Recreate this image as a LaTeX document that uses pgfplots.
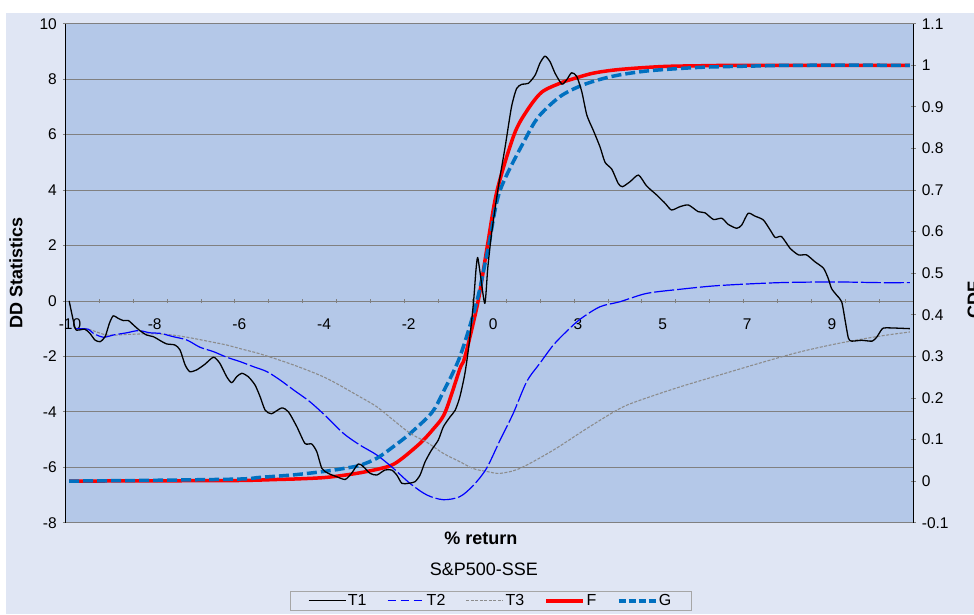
\documentclass[border=0pt]{standalone}
\usepackage{fontspec}
\setmainfont{Liberation Sans}
\usepackage{pgfplots}
\pgfplotsset{compat=1.18}
\definecolor{outerbg}{RGB}{224,230,244}
\definecolor{plotbg}{RGB}{180,200,232}
\definecolor{gridc}{RGB}{128,128,128}
\definecolor{gblue}{RGB}{0,112,192}
\definecolor{tgray}{RGB}{140,140,140}
\begin{document}
\begin{tikzpicture}[x=1pt,y=1pt]
\path[use as bounding box, fill=white] (0,0) rectangle (974,614);
\fill[outerbg] (6,0) rectangle (974,601);
\pgfplotsset{
  common/.style={
    scale only axis, width=848pt, height=499pt,
    at={(65.3pt,91.3pt)}, anchor=south west,
    xmin=-10.111, xmax=9.922,
    /pgf/number format/assume math mode=true,
    tick align=outside, major tick length=5pt, minor tick length=4.5pt,
    tick style={gridc, line width=0.8pt},
    ticklabel style={font=\fontsize{15.5}{18}\selectfont},
  },
}
% Axis A: background, grid, left axis, x axis line
\begin{axis}[common,
  ymin=-8, ymax=10,
  axis background/.style={fill=plotbg},
  axis y line=left, axis x line=middle,
  hide obscured x ticks=false, hide obscured y ticks=false,
  y axis line style={black, line width=1pt, -},
  x axis line style={gridc, line width=0.8pt, -},
  ytick={-8,-6,-4,-2,0,2,4,6,8,10},
  yticklabels={-8,-6,-4,-2,0,2,4,6,8,10},
  ymajorgrids, grid style={gridc, line width=0.8pt},
  xtick={-10,-8,-6,-4,-2,0,2,4,6,8},
  xticklabels={-10,-8,-6,-4,-2,0,3,5,7,9},
  major x tick style={draw=none},
  minor x tick style={gridc, line width=0.9pt},
  minor xtick={-9.310,-8.508,-7.707,-6.906,-6.104,-5.303,-4.502,-3.701,-2.899,-2.098,-1.297,-0.495,0.306,1.107,1.909,2.710,3.511,4.312,5.114,5.915,6.716,7.518,8.319,9.120},
  xticklabel style={yshift=-12pt},
  yticklabel style={xshift=-2.5pt},
  xlabel={\textbf{\% return}},
  every axis x label/.style={at={(axis description cs:0.4902,-0.0307)}, anchor=center, font=\fontsize{18}{21}\selectfont},
  ylabel={\textbf{DD Statistics}},
  every axis y label/.style={at={(axis description cs:-0.0505,0.5)}, rotate=90, anchor=base, font=\fontsize{18}{21}\selectfont},
  title={S\&P500-SSE},
  every axis title/.style={at={(axis description cs:0.4937,-0.0928)}, anchor=center, font=\fontsize{18}{21}\selectfont},
]
\end{axis}
% Axis B: right CDF axis with F and G
\begin{axis}[common,
  ymin=-0.1, ymax=1.1,
  axis y line=right, axis x line=none,
  y axis line style={black, line width=1pt, -},
  ytick={-0.1,0,0.1,0.2,0.3,0.4,0.5,0.6,0.7,0.8,0.9,1,1.1},
  yticklabels={-0.1,0,0.1,0.2,0.3,0.4,0.5,0.6,0.7,0.8,0.9,1,1.1},
  yticklabel style={xshift=2.5pt},
  ylabel={\textbf{CDF}},
  every axis y label/.style={at={(axis description cs:1.0787,0.4463)}, rotate=90, anchor=base, font=\fontsize{18}{21}\selectfont},
]
\addplot[red, line width=3.5pt, smooth, tension=0.5] coordinates {
(-10.02,0.000) (-8.0,0.0007) (-6.0,0.0015) (-5.08,0.004) (-4.72,0.005) (-3.94,0.009) (-3.15,0.020) (-2.49,0.035) (-2.20,0.051) (-1.73,0.091) (-1.42,0.125) (-1.14,0.165) (-0.79,0.270) (-0.67,0.299) (-0.36,0.432) (-0.14,0.566) (0.09,0.699) (0.49,0.833) (0.79,0.890) (1.14,0.935) (1.58,0.957) (1.84,0.966) (2.36,0.981) (2.99,0.990) (4.0,0.997) (5.0,0.999) (6.0,1.0) (9.84,1.0)};
\addplot[gblue, line width=3.5pt, dash pattern=on 10pt off 4pt, smooth, tension=0.5] coordinates {
(-10.02,0.000) (-8.0,0.002) (-6.0,0.005) (-5.51,0.009) (-4.72,0.015) (-3.94,0.024) (-3.50,0.031) (-3.15,0.038) (-2.75,0.055) (-2.36,0.083) (-1.96,0.115) (-1.45,0.165) (-1.18,0.215) (-0.79,0.299) (-0.39,0.432) (-0.11,0.566) (0.16,0.699) (0.81,0.833) (1.10,0.880) (1.58,0.925) (2.05,0.950) (2.52,0.966) (2.99,0.977) (3.70,0.987) (4.88,0.995) (6.06,0.998) (7.24,1.0) (9.84,1.0)};
\end{axis}
% Axis C: T1, T2, T3 on the left scale, legend
\begin{axis}[common,
  ymin=-8, ymax=10, hide axis,
  legend style={at={(0.5014,-0.1363)}, anchor=north, legend columns=-1,
    draw=gridc!70, fill=outerbg, font=\fontsize{16}{19}\selectfont,
    inner xsep=18pt, inner ysep=2pt,
    nodes={inner sep=1.5pt},
    /tikz/every even column/.append style={column sep=19pt}},
  legend image code/.code={\draw[#1] (0pt,0pt) -- (37pt,0pt);},
]
\addplot[forget plot, tgray, line width=1.1pt, dash pattern=on 3pt off 1.5pt, smooth] coordinates {
(-9.88,-1.00) (-9.57,-1.02) (-9.13,-1.23) (-8.66,-1.21) (-8.27,-1.19) (-7.87,-1.19) (-7.48,-1.25) (-7.09,-1.35) (-6.69,-1.47) (-6.30,-1.59) (-5.91,-1.75) (-5.51,-1.91) (-4.72,-2.31) (-3.94,-2.79) (-3.15,-3.46) (-2.75,-3.82) (-2.36,-4.30) (-1.96,-4.78) (-1.57,-5.10) (-1.18,-5.50) (-0.79,-5.80) (-0.47,-6.05) (-0.16,-6.15) (0.16,-6.22) (0.63,-6.04) (1.42,-5.38) (2.21,-4.60) (2.99,-3.88) (3.47,-3.58) (4.41,-3.10) (5.35,-2.67) (6.30,-2.24) (7.24,-1.84) (8.19,-1.52) (9.13,-1.27) (9.84,-1.12)};
\addplot[forget plot, blue, line width=1.2pt, dash pattern=on 20pt off 3pt, smooth] coordinates {
(-9.88,-1.00) (-9.57,-1.02) (-9.45,-1.17) (-9.21,-1.31) (-8.98,-1.23) (-8.66,-1.15) (-8.38,-1.07) (-8.11,-1.15) (-7.87,-1.17) (-7.56,-1.29) (-7.24,-1.41) (-6.93,-1.67) (-6.61,-1.83) (-6.30,-2.03) (-5.98,-2.19) (-5.67,-2.37) (-5.35,-2.55) (-5.04,-2.85) (-4.72,-3.21) (-4.33,-3.64) (-3.94,-4.18) (-3.54,-4.78) (-3.15,-5.20) (-2.75,-5.56) (-2.36,-6.04) (-1.97,-6.58) (-1.57,-7.00) (-1.18,-7.17) (-0.79,-7.06) (-0.47,-6.65) (-0.16,-6.04) (0.16,-5.02) (0.47,-4.06) (0.79,-2.91) (1.10,-2.25) (1.42,-1.59) (1.73,-1.10) (2.05,-0.66) (2.52,-0.21) (2.99,-0.03) (3.62,0.27) (4.41,0.42) (5.20,0.54) (5.99,0.61) (6.77,0.66) (7.56,0.68) (8.35,0.68) (9.13,0.66) (9.84,0.66)};
\addplot[forget plot, black, line width=1.3pt, smooth, tension=0.4, line join=round] coordinates {
(-10.02,0.00) (-9.88,-0.98) (-9.80,-1.05) (-9.65,-1.02) (-9.53,-1.17) (-9.41,-1.41) (-9.29,-1.47) (-9.17,-1.29) (-9.07,-0.81) (-8.98,-0.54) (-8.86,-0.63) (-8.74,-0.71) (-8.62,-0.71) (-8.50,-0.87) (-8.35,-1.07) (-8.19,-1.23) (-8.03,-1.29) (-7.87,-1.43) (-7.72,-1.55) (-7.52,-1.59) (-7.40,-1.77) (-7.28,-2.31) (-7.17,-2.55) (-7.01,-2.49) (-6.81,-2.28) (-6.61,-2.03) (-6.46,-2.25) (-6.30,-2.73) (-6.18,-2.95) (-6.06,-2.73) (-5.94,-2.61) (-5.79,-2.73) (-5.63,-3.03) (-5.51,-3.45) (-5.39,-3.94) (-5.24,-4.07) (-5.00,-3.86) (-4.84,-4.00) (-4.64,-4.54) (-4.45,-5.14) (-4.29,-5.16) (-4.17,-5.44) (-4.05,-6.04) (-3.90,-6.22) (-3.70,-6.34) (-3.50,-6.44) (-3.35,-6.22) (-3.19,-5.88) (-3.07,-5.98) (-2.91,-6.22) (-2.75,-6.28) (-2.56,-6.10) (-2.40,-6.10) (-2.28,-6.28) (-2.16,-6.58) (-2.01,-6.58) (-1.85,-6.52) (-1.73,-6.28) (-1.61,-5.80) (-1.46,-5.38) (-1.30,-5.02) (-1.18,-4.54) (-1.02,-4.18) (-0.90,-3.94) (-0.79,-3.46) (-0.67,-2.61) (-0.57,-1.53) (-0.47,-0.09) (-0.41,1.11) (-0.37,1.57) (-0.31,1.00) (-0.20,-0.09) (-0.13,1.20) (-0.04,2.44) (0.12,4.12) (0.28,5.56) (0.43,7.00) (0.55,7.66) (0.67,7.81) (0.83,7.85) (0.99,8.15) (1.10,8.57) (1.22,8.83) (1.34,8.63) (1.46,8.21) (1.62,7.82) (1.73,7.97) (1.85,8.23) (1.97,8.10) (2.09,7.55) (2.21,6.70) (2.36,6.16) (2.52,5.56) (2.64,5.00) (2.80,4.75) (2.95,4.24) (3.05,4.12) (3.23,4.30) (3.43,4.54) (3.62,4.15) (3.86,3.82) (4.06,3.52) (4.21,3.28) (4.41,3.40) (4.61,3.46) (4.84,3.22) (5.00,3.18) (5.20,2.94) (5.40,2.98) (5.55,2.76) (5.75,2.62) (5.87,2.74) (6.02,3.16) (6.18,3.06) (6.38,2.92) (6.54,2.56) (6.66,2.29) (6.81,2.32) (7.01,1.90) (7.21,1.66) (7.40,1.66) (7.60,1.41) (7.80,1.18) (7.91,0.82) (7.99,0.45) (8.11,0.21) (8.23,-0.03) (8.31,-0.69) (8.39,-1.35) (8.47,-1.45) (8.70,-1.42) (8.95,-1.45) (9.06,-1.30) (9.18,-1.02) (9.28,-0.97) (9.84,-1.00)};
\addlegendimage{black, line width=1.3pt}
\addlegendentry{T1}
\addlegendimage{blue, line width=1.2pt, dash pattern=on 8pt off 5pt}
\addlegendentry{T2}
\addlegendimage{tgray, line width=1.1pt, dash pattern=on 3pt off 1.5pt}
\addlegendentry{T3}
\addlegendimage{red, line width=3.5pt}
\addlegendentry{F}
\addlegendimage{gblue, line width=3.5pt, dash pattern=on 7pt off 3pt}
\addlegendentry{G}
\end{axis}
\end{tikzpicture}
\end{document}
